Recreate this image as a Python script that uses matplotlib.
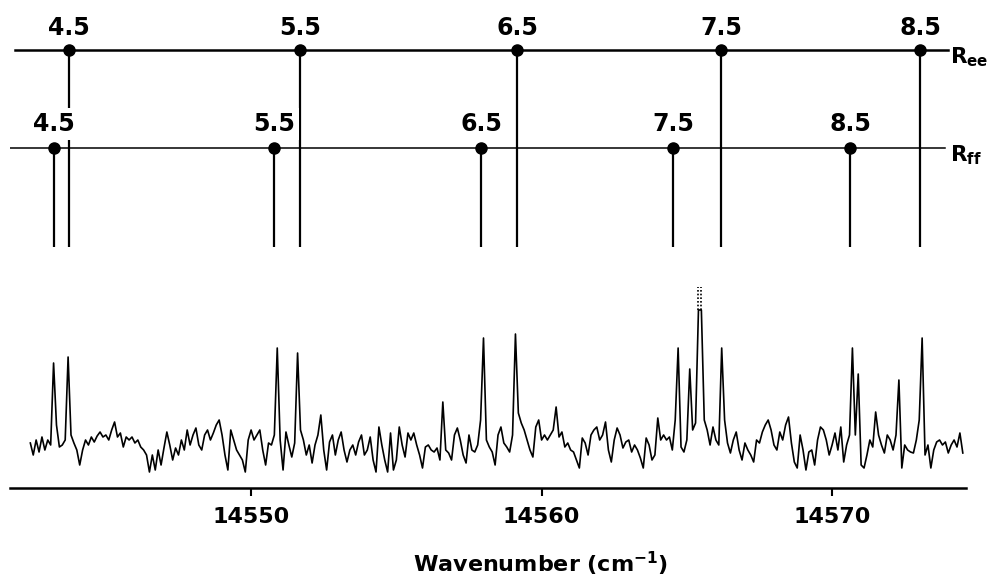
import numpy as np
import matplotlib
matplotlib.use("Agg")
import matplotlib.pyplot as plt

# spectrum on a 0.1 cm-1 grid
wn_start = 14542.4
wn_step = 0.1
signal = [
    37, 25, 40, 28, 43, 30, 40, 35, 117, 55,
    33, 35, 40, 123, 45, 37, 30, 15, 30, 40,
    35, 43, 38, 44, 48, 43, 45, 40, 50, 58,
    43, 47, 33, 43, 40, 43, 37, 40, 33, 30,
    25, 8, 25, 10, 30, 15, 32, 48, 35, 20,
    32, 25, 40, 30, 50, 35, 45, 52, 35, 30,
    45, 50, 40, 47, 55, 60, 45, 25, 10, 50,
    40, 30, 25, 20, 8, 40, 50, 40, 45, 50,
    30, 15, 37, 35, 45, 132, 40, 10, 48, 35,
    23, 37, 127, 50, 40, 25, 35, 17, 35, 45,
    65, 30, 10, 38, 45, 25, 40, 48, 30, 18,
    30, 35, 25, 38, 45, 25, 30, 43, 20, 8,
    53, 35, 20, 8, 47, 10, 20, 53, 35, 23,
    47, 40, 47, 35, 25, 12, 33, 35, 30, 28,
    32, 20, 78, 30, 27, 20, 45, 52, 40, 25,
    17, 45, 30, 28, 35, 60, 142, 40, 33, 28,
    15, 45, 53, 37, 33, 28, 45, 146, 67, 57,
    50, 40, 30, 23, 53, 60, 40, 45, 40, 45,
    50, 73, 43, 48, 33, 37, 30, 28, 20, 12,
    42, 37, 25, 45, 50, 53, 40, 45, 58, 30,
    18, 40, 52, 45, 32, 38, 40, 28, 35, 30,
    22, 12, 42, 35, 20, 25, 62, 40, 45, 40,
    43, 30, 60, 132, 33, 28, 40, 111, 50, 57,
    170, 170, 60, 50, 35, 53, 40, 35, 132, 60,
    37, 27, 40, 48, 30, 20, 37, 30, 25, 18,
    40, 37, 48, 55, 60, 50, 35, 30, 48, 40,
    55, 63, 37, 18, 12, 45, 30, 10, 28, 30,
    15, 40, 53, 50, 40, 25, 35, 47, 30, 53,
    18, 35, 45, 132, 45, 106, 15, 12, 25, 40,
    33, 68, 45, 35, 27, 45, 40, 30, 45, 100,
    12, 35, 30, 28, 27, 40, 60, 142, 25, 35,
    12, 30, 38, 40, 35, 38, 27, 35, 40, 33,
    47, 27,
]
offscale_top = 193

# line assignments
j_labels = ["4.5", "5.5", "6.5", "7.5", "8.5"]
ee_pos = [14543.73, 14551.69, 14559.16, 14566.18, 14573.03]
ff_pos = [14543.22, 14550.79, 14557.92, 14564.53, 14570.62]
xticks = [14550, 14560, 14570]

sig = np.array(signal)
x = wn_start + wn_step * np.arange(len(sig))

y_ee = 430
y_ff = 332
y_stick = 233

fig = plt.figure(figsize=(9.91, 5.80), dpi=100)
ax = fig.add_axes([10 / 991, 92 / 580, 956 / 991, 488 / 580])

ax.plot(x, sig, color="black", lw=1.2)
# off-scale peak drawn dotted above the cut
top = x[sig == sig.max()]
ax.vlines(top, sig.max(), offscale_top, colors="black", linestyles=(0, (1, 1.2)), lw=1.2)

ax.axhline(y_ee, xmin=0.005, xmax=0.981, color="black", lw=1.8)
ax.axhline(y_ff, xmin=0.0, xmax=0.978, color="black", lw=1.1)
ax.vlines(ee_pos, y_stick, y_ee, colors="black", lw=1.6)
ax.vlines(ff_pos, y_stick, y_ff, colors="black", lw=1.6)
ax.plot(ee_pos, [y_ee] * len(ee_pos), "o", color="black", ms=8)
ax.plot(ff_pos, [y_ff] * len(ff_pos), "o", color="black", ms=8)

for p, lab in zip(ee_pos, j_labels):
    ax.text(p, 445, lab, ha="center", va="baseline", fontsize=17, fontweight="bold")
for p, lab in zip(ff_pos, j_labels):
    ax.text(p, 349, lab, ha="center", va="baseline", fontsize=17, fontweight="bold",
            zorder=3, bbox=dict(boxstyle="square,pad=0.15", fc="white", ec="none"))

ax.text(14574.05, 417, r"$\mathbf{R}_{\mathbf{ee}}$", ha="left", va="baseline", fontsize=15.5)
ax.text(14574.05, 319, r"$\mathbf{R}_{\mathbf{ff}}$", ha="left", va="baseline", fontsize=15.5)

ax.set_xlim(14541.70, 14574.61)
ax.set_ylim(-8, 480)
ax.set_xticks(xticks)
ax.set_xticklabels([str(t) for t in xticks], fontsize=16, fontweight="bold")
ax.set_yticks([])
ax.tick_params(axis="x", direction="out", length=6, width=1.5, pad=8)
for s in ["left", "top", "right"]:
    ax.spines[s].set_visible(False)
ax.spines["bottom"].set_linewidth(1.8)

fig.text(541 / 991, 1 - 564 / 580, r"Wavenumber (cm$^{\mathbf{-1}}$)",
         ha="center", va="center", fontsize=16, fontweight="bold")

fig.savefig("out.png", dpi=100)
